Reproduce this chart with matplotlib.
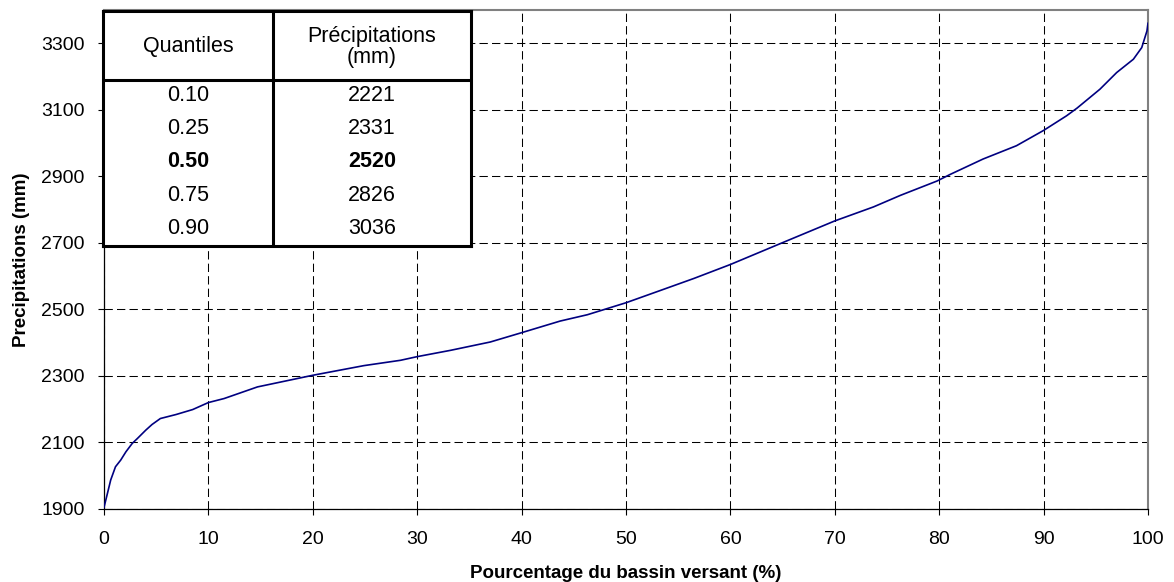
import matplotlib
matplotlib.use("Agg")
import matplotlib.pyplot as plt
from matplotlib import font_manager

# hypsometric-like curve of basin precipitation
pct_basin = [0, 0.33, 0.64, 1.1, 1.6, 2.1, 2.7, 3.2, 4.0, 4.6, 5.4, 6.9, 8.5,
             10, 11.5, 14.7, 20, 24.9, 28.4, 30, 33.2, 37, 40, 43.7, 46.3,
             50, 53.3, 56.5, 60, 65.1, 70, 73.7, 76.3, 79.8, 81, 84.2, 87.4,
             90, 92.2, 93.2, 95.4, 97, 98.6, 99.4, 99.9, 100]
precip_mm = [1905, 1947, 1987, 2027, 2047, 2072, 2097, 2112, 2137, 2154, 2172,
             2184, 2199, 2220, 2232, 2267, 2302, 2331, 2347, 2358, 2377, 2402,
             2430, 2465, 2484, 2520, 2557, 2593, 2635, 2702, 2766, 2808, 2843,
             2886, 2905, 2952, 2992, 3038, 3082, 3105, 3162, 3212, 3252, 3287,
             3337, 3360]

quantiles = ["0.10", "0.25", "0.50", "0.75", "0.90"]
quantile_precip = ["2221", "2331", "2520", "2826", "3036"]
bold_row = "0.50"

y_ticks = [1900, 2100, 2300, 2500, 2700, 2900, 3100, 3300]
x_ticks = [0, 10, 20, 30, 40, 50, 60, 70, 80, 90, 100]

names = {f.name for f in font_manager.fontManager.ttflist}
NARROW = "Liberation Sans Narrow" if "Liberation Sans Narrow" in names else "Liberation Sans"
plt.rcParams["font.family"] = ["Liberation Sans", "DejaVu Sans"]

W, H = 1174, 582
fig = plt.figure(figsize=(W / 100, H / 100), dpi=100)
ax = fig.add_axes([104 / W, 1 - 509 / H, (1148 - 104) / W, (509 - 10) / H])

ax.plot(pct_basin, precip_mm, color="#000080", lw=1.2, zorder=3)

ax.set_xlim(0, 100)
ax.set_ylim(1900, 3400)
ax.set_xticks(x_ticks)
ax.set_yticks(y_ticks)
ax.grid(True, color="black", lw=0.75, linestyle=(0, (8, 4)))
ax.set_axisbelow(True)
ax.tick_params(labelsize=14, length=4, width=0.8, color="black")
ax.tick_params(axis="x", pad=12)
ax.tick_params(axis="y", pad=10)

for side in ("top", "right"):
    ax.spines[side].set_color("#808080")
    ax.spines[side].set_linewidth(1.5)
for side in ("left", "bottom"):
    ax.spines[side].set_color("black")
    ax.spines[side].set_linewidth(0.9)

ax.set_xlabel("Pourcentage du bassin versant (%)", fontsize=13.5,
              fontweight="bold", labelpad=12)
ax.set_ylabel("Precipitations (mm)", fontsize=13.5, fontweight="bold",
              labelpad=8)

# quantile table, drawn in pixel-like units of its own axes
tl, tr, tt, tb = 103, 471, 11, 246
tab = fig.add_axes([tl / W, 1 - tb / H, (tr - tl) / W, (tb - tt) / H])
tw, th = tr - tl, tb - tt
tab.set_xlim(0, tw)
tab.set_ylim(th, 0)
tab.set_xticks([])
tab.set_yticks([])
tab.set_facecolor("white")
for s in tab.spines.values():
    s.set_linewidth(2.2)
    s.set_color("black")
col_split = 273 - tl
head_bottom = 79.5 - tt
tab.axvline(col_split, color="black", lw=2.2)
tab.axhline(head_bottom, color="black", lw=2.2)

c1, c2 = col_split / 2, (col_split + tw) / 2
tsize = 17 if NARROW != "Liberation Sans" else 15.5
tfont = dict(family=[NARROW, "DejaVu Sans"], fontsize=tsize, ha="center", va="center")
tab.text(c1, 46.7 - tt, "Quantiles", **tfont)
tab.text(c2, 47 - tt, "Précipitations\n(mm)", linespacing=1.05, **tfont)
row_h = (th - head_bottom) / len(quantiles)
for i, (q, p) in enumerate(zip(quantiles, quantile_precip)):
    yc = head_bottom + row_h * (i + 0.5) - 1
    w = "bold" if q == bold_row else "normal"
    tab.text(c1, yc, q, fontweight=w, **tfont)
    tab.text(c2, yc, p, fontweight=w, **tfont)

fig.savefig("out.png", dpi=100)
